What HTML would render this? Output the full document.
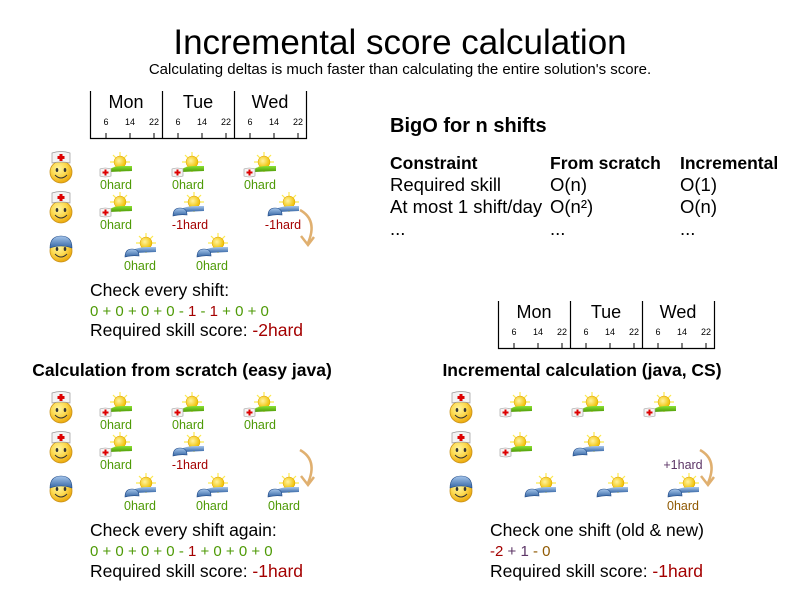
<!DOCTYPE html>
<html><head><meta charset="utf-8"><style>
html,body{margin:0;padding:0;background:#fff}
svg{display:block;font-family:"Liberation Sans",sans-serif}
</style></head><body>
<svg width="800" height="600" viewBox="0 0 800 600" xmlns="http://www.w3.org/2000/svg">
<defs>
<radialGradient id="fg" cx="0.4" cy="0.35" r="0.7">
<stop offset="0" stop-color="#fff6a0"/><stop offset="0.5" stop-color="#fcd94f"/><stop offset="1" stop-color="#e8a000"/></radialGradient>
<radialGradient id="sg" cx="0.4" cy="0.4" r="0.6"><stop offset="0" stop-color="#fff3a0"/><stop offset="1" stop-color="#f0c000"/></radialGradient>
<linearGradient id="gg" x1="0" y1="0" x2="0" y2="1"><stop offset="0" stop-color="#8ae234"/><stop offset="1" stop-color="#4e9a06"/></linearGradient>
<linearGradient id="bg" x1="0" y1="0" x2="0" y2="1"><stop offset="0" stop-color="#a6c6ec"/><stop offset="1" stop-color="#3465a4"/></linearGradient>
<g id="face">
<circle cx="0" cy="0" r="11" fill="url(#fg)" stroke="#c8901a" stroke-width="0.8"/>
<ellipse cx="-4" cy="-2" rx="1.3" ry="2" fill="#333"/><ellipse cx="4" cy="-2" rx="1.3" ry="2" fill="#333"/>
<path d="M-6,3 Q0,9 6,3" fill="none" stroke="#333" stroke-width="1"/>
</g>
<g id="nface">
<use href="#face"/>
<path d="M-9,-9 L-9,-19 Q0,-22 9,-19 L9,-9 Q0,-11 -9,-9Z" fill="#f4f4f4" stroke="#999" stroke-width="0.7"/>
<rect x="-1.5" y="-18" width="3" height="7" fill="#d00"/><rect x="-3.5" y="-16" width="7" height="3" fill="#d00"/>
</g>
<g id="cface">
<use href="#face"/>
<path d="M-11,-3 Q-11,-15 0,-15 Q11,-15 11,-3 Q0,-7 -11,-3Z" fill="url(#bg)" stroke="#204a87" stroke-width="0.6"/>
</g>
<g id="sun">
<g stroke="#fce94f" stroke-width="1.2">
<line x1="0" y1="-10" x2="0" y2="10"/><line x1="-10" y1="0" x2="10" y2="0"/><line x1="-7" y1="-7" x2="7" y2="7"/><line x1="-7" y1="7" x2="7" y2="-7"/></g>
<circle r="6" fill="url(#sg)" stroke="#e0a000" stroke-width="0.5"/>
</g>
<g id="gshift">
<use href="#sun" x="21" y="9"/>
<path d="M8,19 Q12,13 24,13 L33,13 L33,18 L10,19Z" fill="url(#gg)"/>
<path d="M1,16 Q6,14 12,16 L12,23 Q6,25 1,23Z" fill="#f4f4f4" stroke="#999" stroke-width="0.6"/>
<rect x="5.5" y="16.5" width="2" height="6" fill="#d00"/><rect x="3.5" y="18.5" width="6" height="2" fill="#d00"/>
</g>
<g id="bshift">
<use href="#sun" x="21" y="9"/>
<path d="M6,17 Q12,13 24,13 L31,13 L31,18 L10,19Z" fill="url(#bg)"/>
<path d="M0,23 Q0,15 7,15 Q14,15 14,22 Q7,21 0,23Z" fill="url(#bg)" stroke="#204a87" stroke-width="0.6"/>
</g>
<g id="arrow">
<path d="M0,0 Q18,10 8,33" fill="none" stroke="#e0b070" stroke-width="2.5"/>
<path d="M1,26 L8,35 L14,27" fill="none" stroke="#e0b070" stroke-width="2.5"/>
</g>
<g id="tl" font-size="9" text-anchor="middle" fill="#000">
<path d="M0.5,0 V47.5 H216.5 V0 M72.5,0 V47.5 M144.5,0 V47.5" fill="none" stroke="#000" stroke-width="1.2"/>
<g font-size="18"><text x="36" y="17">Mon</text><text x="108" y="17">Tue</text><text x="180" y="17">Wed</text></g>
<text x="16" y="34">6</text><text x="40" y="34">14</text><text x="64" y="34">22</text>
<text x="88" y="34">6</text><text x="112" y="34">14</text><text x="136" y="34">22</text>
<text x="160" y="34">6</text><text x="184" y="34">14</text><text x="208" y="34">22</text>
<path d="M16,42V47M40,42V47M64,42V47M88,42V47M112,42V47M136,42V47M160,42V47M184,42V47M208,42V47" stroke="#000"/>
</g>
</defs>

<text x="400" y="54" font-size="35" text-anchor="middle">Incremental score calculation</text>
<text x="400" y="74" font-size="15" text-anchor="middle">Calculating deltas is much faster than calculating the entire solution's score.</text>

<use href="#tl" x="90" y="91"/>
<use href="#tl" x="498" y="301"/>

<text x="390" y="132" font-size="20" font-weight="bold">BigO for n shifts</text>
<g font-size="18.5">
<g font-weight="bold" font-size="17.5"><text x="390" y="169">Constraint</text><text x="550" y="169">From scratch</text><text x="680" y="169">Incremental</text></g>
<text x="390" y="191">Required skill</text><text x="550" y="191">O(n)</text><text x="680" y="191">O(1)</text>
<text x="390" y="213">At most 1 shift/day</text><text x="550" y="213">O(n²)</text><text x="680" y="213">O(n)</text>
<text x="390" y="235">...</text><text x="550" y="235">...</text><text x="680" y="235">...</text>
</g>

<!-- section 1 -->
<g font-size="12.5" text-anchor="middle">
<use href="#nface" x="61" y="172"/><use href="#nface" x="61" y="212"/><use href="#cface" x="61" y="251"/>
<use href="#gshift" x="99" y="153"/><use href="#gshift" x="171" y="153"/><use href="#gshift" x="243" y="153"/>
<use href="#gshift" x="99" y="193"/><use href="#bshift" x="173" y="193"/><use href="#bshift" x="268" y="193"/>
<use href="#bshift" x="125" y="234"/><use href="#bshift" x="197" y="234"/>
<g fill="#4e9a06"><text x="116" y="189">0hard</text><text x="188" y="189">0hard</text><text x="260" y="189">0hard</text>
<text x="116" y="229">0hard</text><text x="140" y="270">0hard</text><text x="212" y="270">0hard</text></g>
<g fill="#a40000"><text x="190" y="229">-1hard</text><text x="283" y="229">-1hard</text></g>
<use href="#arrow" x="300" y="210"/>
</g>
<g font-size="17.5"><text x="90" y="296">Check every shift:</text>
<text x="90" y="316" font-size="15" fill="#4e9a06">0 + 0 + 0 + 0 - <tspan fill="#a40000">1</tspan> - <tspan fill="#a40000">1</tspan> + 0 + 0</text>
<text x="90" y="336">Required skill score: <tspan fill="#a40000">-2hard</tspan></text></g>

<g font-size="17.5" font-weight="bold" text-anchor="middle">
<text x="182" y="376">Calculation from scratch (easy java)</text>
<text x="582" y="376">Incremental calculation (java, CS)</text></g>

<!-- section 2 -->
<g font-size="12.5" text-anchor="middle">
<use href="#nface" x="61" y="412"/><use href="#nface" x="61" y="452"/><use href="#cface" x="61" y="491"/>
<use href="#gshift" x="99" y="393"/><use href="#gshift" x="171" y="393"/><use href="#gshift" x="243" y="393"/>
<use href="#gshift" x="99" y="433"/><use href="#bshift" x="173" y="433"/>
<use href="#bshift" x="125" y="474"/><use href="#bshift" x="197" y="474"/><use href="#bshift" x="268" y="474"/>
<g fill="#4e9a06"><text x="116" y="429">0hard</text><text x="188" y="429">0hard</text><text x="260" y="429">0hard</text>
<text x="116" y="469">0hard</text><text x="140" y="510">0hard</text><text x="212" y="510">0hard</text><text x="284" y="510">0hard</text></g>
<text x="190" y="469" fill="#a40000">-1hard</text>
<use href="#arrow" x="300" y="450"/>
</g>
<g font-size="17.5"><text x="90" y="536">Check every shift again:</text>
<text x="90" y="556" font-size="15" fill="#4e9a06">0 + 0 + 0 + 0 - <tspan fill="#a40000">1</tspan> + 0 + 0 + 0</text>
<text x="90" y="577">Required skill score: <tspan fill="#a40000">-1hard</tspan></text></g>

<!-- section 3 -->
<g font-size="12.5" text-anchor="middle">
<use href="#nface" x="461" y="412"/><use href="#nface" x="461" y="452"/><use href="#cface" x="461" y="491"/>
<use href="#gshift" x="499" y="393"/><use href="#gshift" x="571" y="393"/><use href="#gshift" x="643" y="393"/>
<use href="#gshift" x="499" y="433"/><use href="#bshift" x="573" y="433"/>
<use href="#bshift" x="525" y="474"/><use href="#bshift" x="597" y="474"/><use href="#bshift" x="668" y="474"/>
<text x="683" y="469" fill="#5c3566">+1hard</text>
<text x="683" y="510" fill="#8f5902">0hard</text>
<use href="#arrow" x="700" y="450"/>
</g>
<g font-size="17.5"><text x="490" y="536">Check one shift (old &amp; new)</text>
<text x="490" y="556" font-size="15"><tspan fill="#a40000">-2</tspan><tspan fill="#5c3566"> + 1</tspan><tspan fill="#8f5902"> - 0</tspan></text>
<text x="490" y="577">Required skill score: <tspan fill="#a40000">-1hard</tspan></text></g>
</svg>
</body></html>
